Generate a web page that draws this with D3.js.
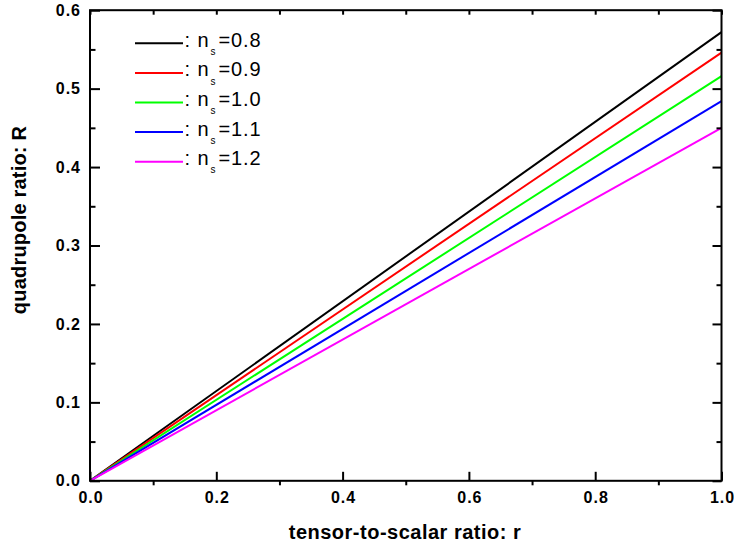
<!DOCTYPE html>
<html>
<head>
<meta charset="utf-8">
<script src="https://cdn.jsdelivr.net/npm/d3@7"></script>
<style>
  html, body { margin: 0; padding: 0; background: #fff; }
  svg { display: block; }
  text { font-family: Arial, "Liberation Sans", sans-serif; }
</style>
</head>
<body>
<svg id="chart" width="734" height="548"></svg>
<script>
// ---- data ----
const rValues = [0, 1];
const nsLabels = ["0.8", "0.9", "1.0", "1.1", "1.2"];
const seriesColors = ["#000000", "#ff0000", "#00ff00", "#0000ff", "#ff00ff"];
const ns08 = [0, 0.572];
const ns09 = [0, 0.546];
const ns10 = [0, 0.516];
const ns11 = [0, 0.484];
const ns12 = [0, 0.450];
const seriesValues = [ns08, ns09, ns10, ns11, ns12];
const xMajorTicks = [0, 0.2, 0.4, 0.6, 0.8, 1.0];
const xMinorTicks = [0.1, 0.3, 0.5, 0.7, 0.9];
const yMajorTicks = [0, 0.1, 0.2, 0.3, 0.4, 0.5, 0.6];
const yMinorTicks = [0.05, 0.15, 0.25, 0.35, 0.45, 0.55];
const xTitle = "tensor-to-scalar ratio: r";
const yTitle = "quadrupole ratio: R";

// ---- layout ----
const svg = d3.select("#chart");
const pLeft = 90, pRight = 721.5, pTop = 10.2, pBottom = 480.8;
const x = d3.scaleLinear().domain([0, 1]).range([pLeft, pRight]);
const y = d3.scaleLinear().domain([0, 0.6]).range([pBottom, pTop]);

// data lines
const line = d3.line().x((d, i) => x(rValues[i])).y(d => y(d));
seriesValues.forEach((vals, k) => {
  svg.append("path")
    .attr("d", line(vals))
    .attr("fill", "none")
    .attr("stroke", seriesColors[k])
    .attr("stroke-width", 2);
});

// axes
function styleAxis(g, labelSize) {
  g.select(".domain").remove();
  g.selectAll(".tick line").attr("stroke", "#000").attr("stroke-width", 2);
  g.selectAll(".tick text")
    .attr("fill", "#000")
    .style("font-size", labelSize + "px")
    .style("font-weight", "bold")
    .style("font-family", "Arial, 'Liberation Sans', sans-serif")
    .attr("letter-spacing", "1px");
}
const fmt = d3.format(".1f");

// bottom major (inward) with labels
svg.append("g").attr("transform", `translate(0.5,${pBottom})`)
  .call(d3.axisBottom(x).tickValues(xMajorTicks).tickFormat(fmt).tickSizeInner(-9).tickSizeOuter(0).tickPadding(11))
  .call(g => styleAxis(g, 16))
  .call(g => g.selectAll(".tick line").attr("transform", "translate(-0.5,0)"));
// bottom minor (outward)
svg.append("g").attr("transform", `translate(0,${pBottom})`)
  .call(d3.axisBottom(x).tickValues(xMinorTicks).tickFormat("").tickSizeInner(4.5).tickSizeOuter(0))
  .call(g => styleAxis(g, 16));
// top ticks (inward)
svg.append("g").attr("transform", `translate(0,${pTop})`)
  .call(d3.axisTop(x).tickValues(xMajorTicks.concat(xMinorTicks)).tickFormat("").tickSizeInner(-4.5).tickSizeOuter(0))
  .call(g => styleAxis(g, 16));
// left major (inward) with labels
svg.append("g").attr("transform", `translate(${pLeft},0)`)
  .call(d3.axisLeft(y).tickValues(yMajorTicks).tickFormat(fmt).tickSizeInner(-10).tickSizeOuter(0).tickPadding(9))
  .call(g => styleAxis(g, 16));
// left minor (inward)
svg.append("g").attr("transform", `translate(${pLeft},0)`)
  .call(d3.axisLeft(y).tickValues(yMinorTicks).tickFormat("").tickSizeInner(-5.5).tickSizeOuter(0))
  .call(g => styleAxis(g, 16));
// right major / minor (inward)
svg.append("g").attr("transform", `translate(${pRight},0)`)
  .call(d3.axisRight(y).tickValues(yMajorTicks).tickFormat("").tickSizeInner(-9).tickSizeOuter(0))
  .call(g => styleAxis(g, 16));
svg.append("g").attr("transform", `translate(${pRight},0)`)
  .call(d3.axisRight(y).tickValues(yMinorTicks).tickFormat("").tickSizeInner(-5).tickSizeOuter(0))
  .call(g => styleAxis(g, 16));

// frame
svg.append("rect")
  .attr("x", pLeft).attr("y", pTop)
  .attr("width", pRight - pLeft).attr("height", pBottom - pTop)
  .attr("fill", "none").attr("stroke", "#000").attr("stroke-width", 2);

// axis titles
svg.append("text")
  .attr("x", 405).attr("y", 539)
  .attr("text-anchor", "middle")
  .style("font-size", "20px").style("font-weight", "bold")
  .attr("letter-spacing", "0.5px")
  .text(xTitle);
svg.append("text")
  .attr("transform", "translate(26,220) rotate(-90)")
  .attr("text-anchor", "middle")
  .style("font-size", "20px").style("font-weight", "bold")
  .attr("letter-spacing", "0.2px")
  .text(yTitle);

// legend
const legendX0 = 135, legendX1 = 183, legendY0 = 43.3, legendDy = 29.6;
nsLabels.forEach((lab, k) => {
  const ly = legendY0 + k * legendDy;
  svg.append("line")
    .attr("x1", legendX0).attr("x2", legendX1)
    .attr("y1", ly).attr("y2", ly)
    .attr("stroke", seriesColors[k]).attr("stroke-width", 2);
  const t = svg.append("text")
    .attr("x", 184.5).attr("y", ly + 3.4)
    .style("font-size", "20px")
    .attr("letter-spacing", "0.9px");
  t.append("tspan").text(": n");
  t.append("tspan").attr("dy", 8.3).attr("dx", 1).style("font-size", "10px").attr("letter-spacing", "0px").text("s");
  t.append("tspan").attr("dy", -8.3).attr("dx", 3).text("=" + lab);
});
</script>
</body>
</html>
